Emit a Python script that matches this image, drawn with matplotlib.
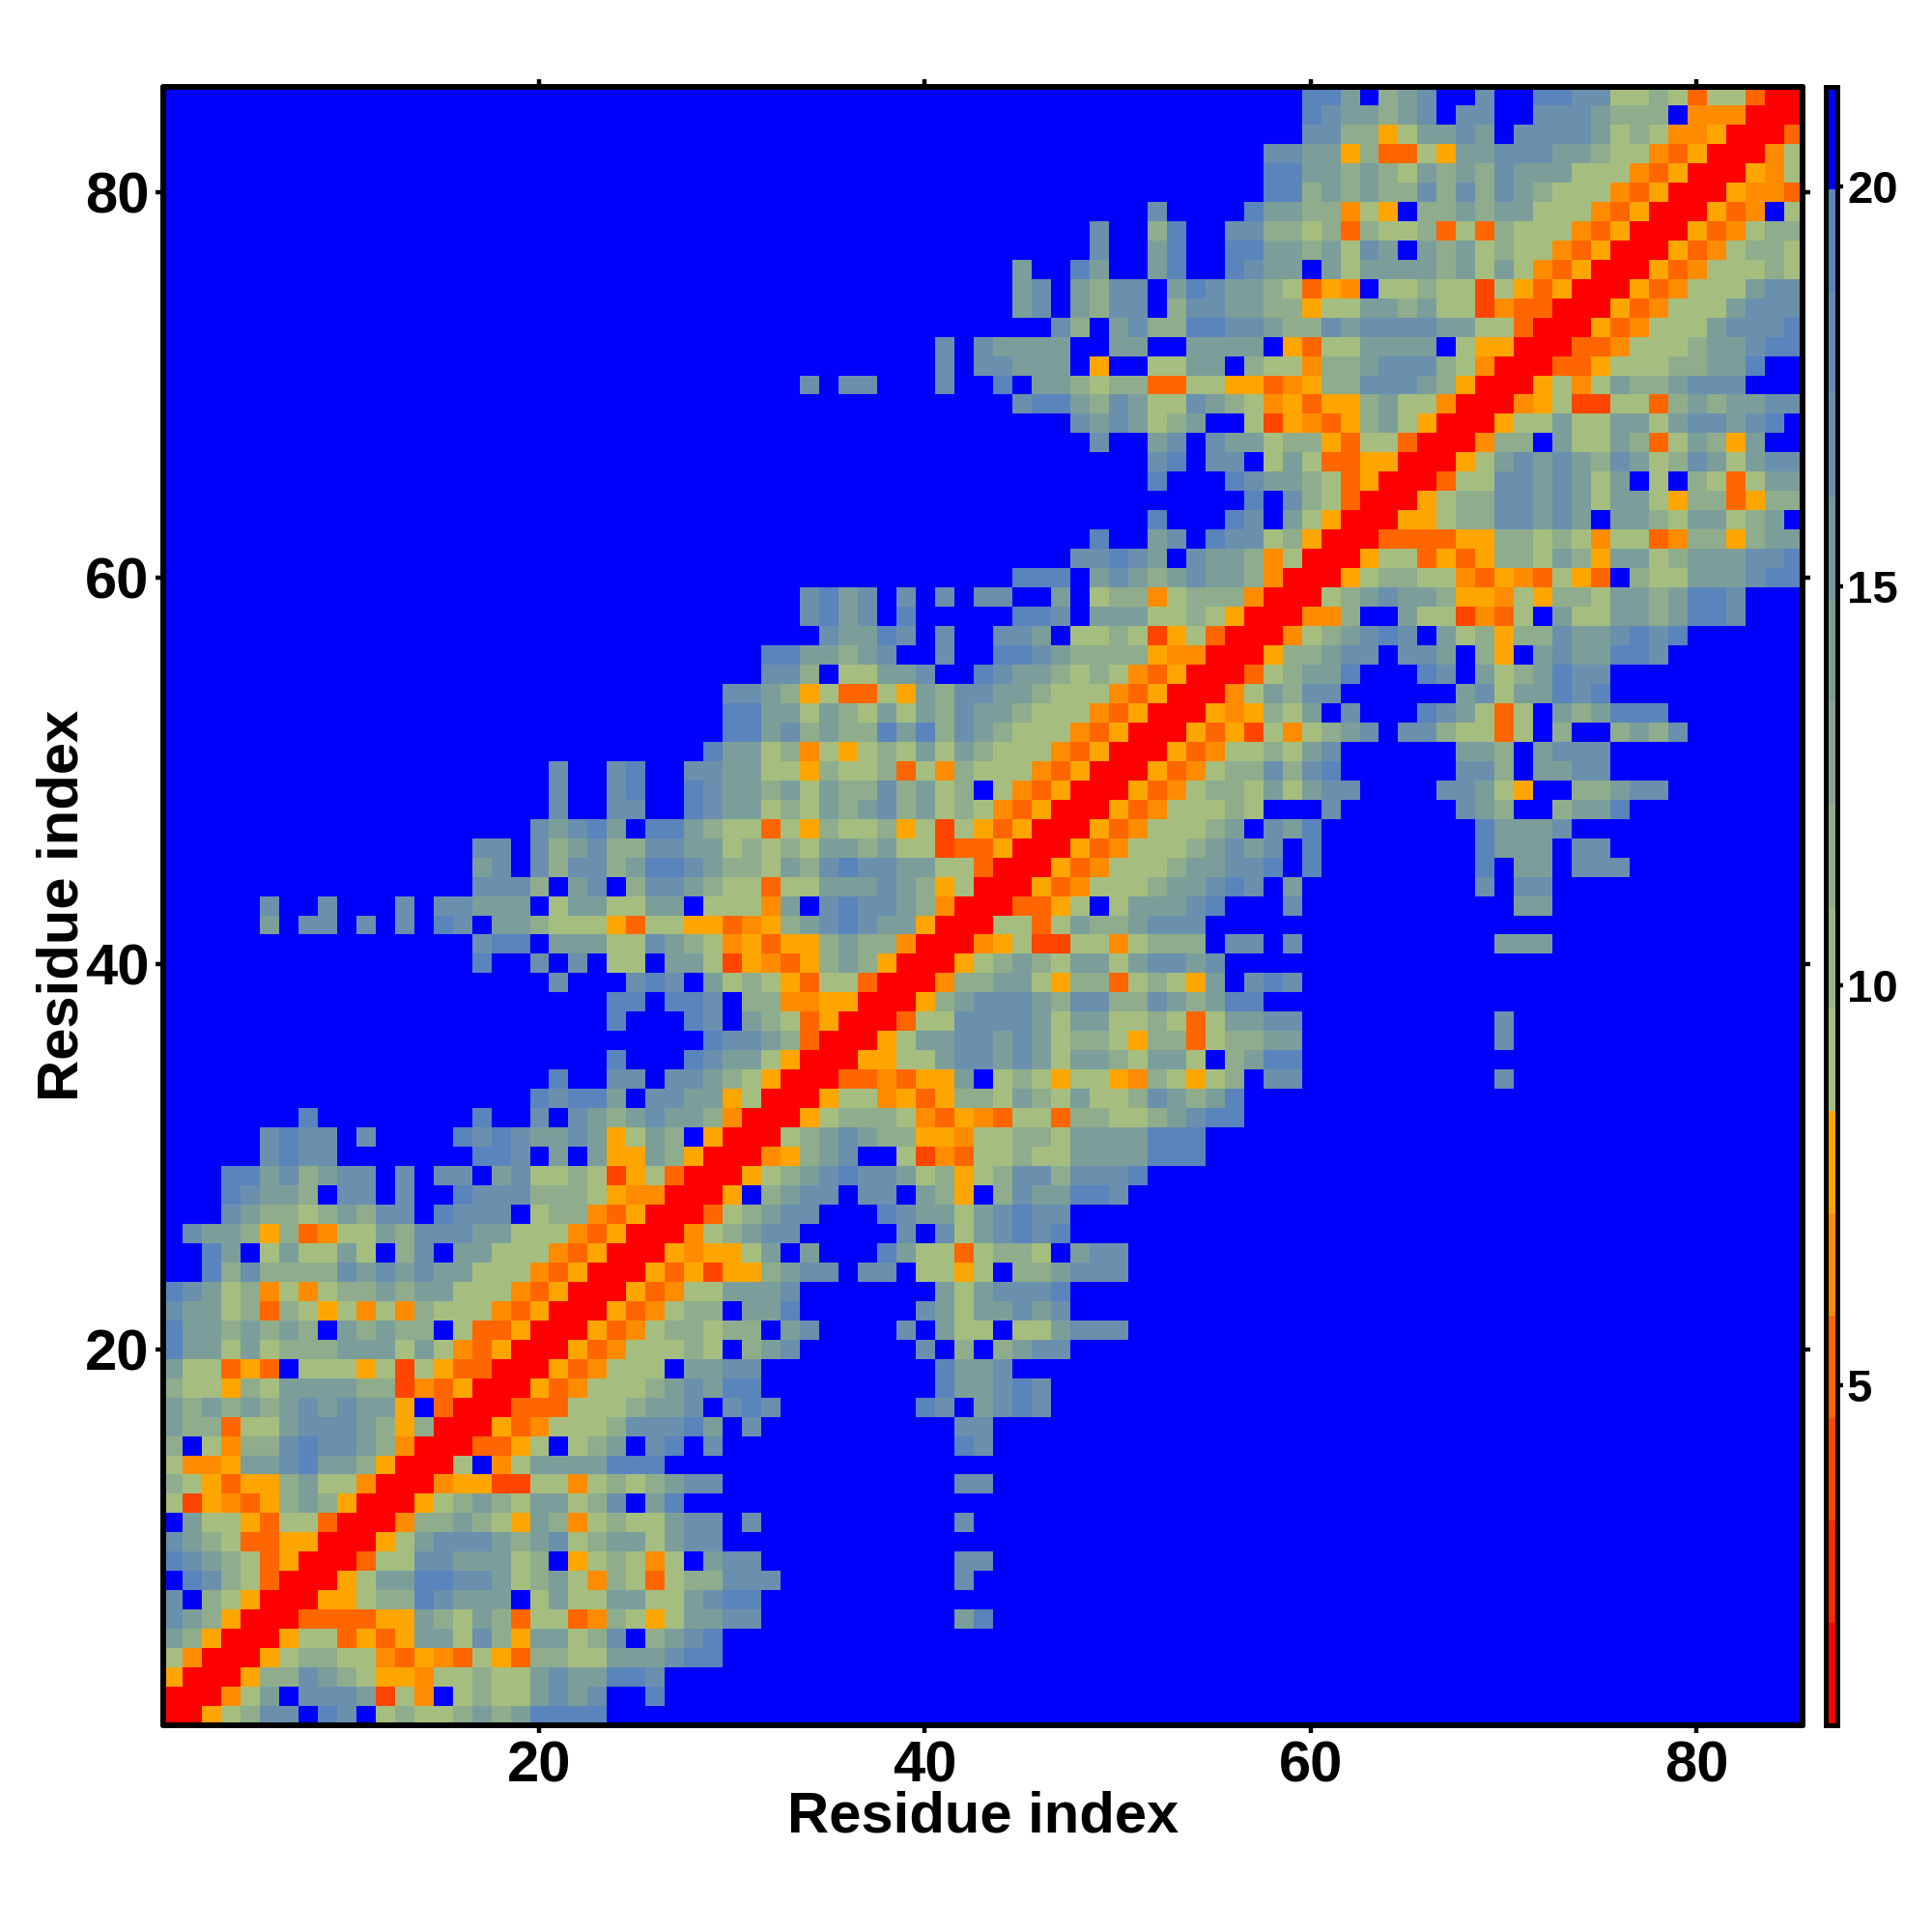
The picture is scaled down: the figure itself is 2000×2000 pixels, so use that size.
import numpy as np
import matplotlib
matplotlib.use("Agg")
import matplotlib.pyplot as plt
from matplotlib.colors import ListedColormap, BoundaryNorm

plt.rcParams['font.family'] = ['Liberation Sans', 'DejaVu Sans']
plt.rcParams['font.weight'] = 'bold'

# Each row: (first residue, hex codes of the distance bin); residues not listed are bin F.
row_85 = [(60,"EEAF"),(64,"8ACFFCFFEECC6686366300")]
row_84 = [(60,"ECAA"),(64,"8ACFCCFFCCCA888F444000")]
row_83 = [(60,"CC88"),(64,"56AACAFCCCCA6864450003")]
row_82 = [(58,"CCAA58"),(64,"3365AACCCAA86643500046")]
row_81 = [(58,"EEAA8A"),(64,"86A8A8CAAA666435000546")]
row_80 = [(58,"EE8A8A"),(64,"88C8C8CA86664350005443")]
row_79 = [(52,"C"),(57,"EAA8846"),(64,"5F88A8AA666435000534F6")]
row_78 = [(49,"C"),(52,"8E"),(56,"CC886838"),(64,"6683638666435000534688")]
row_77 = [(49,"C"),(52,"AE"),(56,"EEAA8A6C"),(64,"AFA8A68664350005346886")]
row_76 = [(45,"A"),(48,"EA"),(52,"AE"),(56,"ECAAFA6A"),(64,"AAA8A6A643500053466686")]
row_75 = [(45,"AC"),(48,"A8CC"),(53,"AECAA86354"),(64,"6686626535000534666ACC")]
row_74 = [(45,"AC"),(48,"A8CC"),(53,"8CCAA88566A"),(64,"A8A662433000534666ACCC")]
row_73 = [(47,"C8"),(50,"AC88EECCA88CAC"),(64,"CCCAA663000534666ACCCE")]
row_72 = [(41,"C"),(43,"CAAAA"),(50,"AA"),(54,"AAAA"),(59,"5366A"),(64,"AAAF6550003346668AACEE")]
row_71 = [(41,"C"),(43,"CCAAA"),(49,"5"),(52,"66AA"),(57,"866488A"),(64,"CCC86400033566688AAEFF")]
row_70 = [(34,"C"),(36,"CC"),(41,"C"),(44,"E"),(46,"AA868833665534588C"),(64,"CCA850005646A88ACCCFFF")]
row_69 = [(45,"CEEA8CA66CA86453558"),(64,"A664000456226638A8AACC")]
row_68 = [(48,"CACA68A"),(57,"6254358"),(64,"A65000566A66AA6ACCACEF")]
row_67 = [(49,"C"),(52,"AC"),(55,"CAA688536"),(64,"63000488FA66A836A85AFF")]
row_66 = [(52,"CE"),(55,"CC"),(58,"6A6335"),(64,"500056ACACA8CA68CA6ACC")]
row_65 = [(52,"E"),(56,"ECAA8635"),(64,"000366CCACA6AF6F8636AA")]
row_64 = [(57,"E"),(59,"C863"),(63,"0005688CCACA6AA65883588")]
row_63 = [(52,"E"),(56,"ECFA6"),(61,"500055688CCACAFAA86AA68AF")]
row_62 = [(49,"E"),(52,"AC"),(55,"ECC685"),(61,"00033335588686466348858AA")]
row_61 = [(48,"CCECA"),(54,"CAA846"),(60,"0005663535886A85AA68AAACCE")]
row_60 = [(45,"EEE"),(49,"ACA8ACAA84"),(59,"00056886643543653F866AAACEE")]
row_59 = [(34,"CEAC"),(39,"C"),(41,"C"),(43,"CC"),(47,"A"),(49,"688468884"),(58,"00068ACAA855465886AA8AEEC")]
row_58 = [(34,"CEAC"),(39,"E"),(45,"EEC"),(49,"AAA66865"),(57,"000448FFA662436FA66AA8AEEC")]
row_57 = [(35,"CAAEC"),(41,"C"),(44,"CCA"),(48,"66862563"),(56,"000468ACECFA68588CAACECE")]
row_56 = [(32,"EEAA8AC"),(41,"C"),(44,"EECA8888544"),(55,"000588ACCFCCAF85FACAAEEC")]
row_55 = [(32,"CC8F66AAC"),(43,"ECAA8686435"),(54,"000368AAEFFFECFA68AECC")]
row_54 = [(30,"CCA8563365A8CCAA8666435"),(53,"00046A8CC"),(68,"AC6AAECE")]
row_53 = [(30,"EEAA6A86A6A8CAA8666435"),(52,"00054586AFC"),(66,"ECA636FA8AEEE")]
row_52 = [(30,"EEAC8A88EAE8CA8666435"),(51,"00053526468AC"),(65,"CC86636F8"),(76,"8A8C")]
row_51 = [(29,"E"),(30,"AA68465686A6A8666435"),(50,"0005346686AC"),(68,"AA8FACCC")]
row_50 = [(21,"C"),(24,"CE"),(28,"CC"),(30,"AA66586683648666435"),(49,"000534688C8CE"),(68,"CC8FAACC")]
row_49 = [(21,"C"),(24,"CE"),(28,"EC"),(30,"AA8A6A"),(36,"88C8A68F64350005346886A6ACC"),(67,"CCA65FF88ACC")]
row_48 = [(21,"C"),(24,"CC"),(28,"EC"),(30,"AA686A"),(36,"8AC8A686435000534"),(53,"66686"),(61,"C"),(68,"CA8"),(73,"8AAE")]
row_47 = [(20,"CACEAFEEA8663658"),(36,"66856265350005346668AFCAE"),(69,"EAAAC")]
row_46 = [(17,"CCFC8AC88CCAA68686A"),(36,"A8A6623350005346668ACACFE"),(69,"EAAAFCC")]
row_45 = [(17,"ACFC8CC8AEECA886A8C"),(36,"ECCAA6630005346668AACCEFE"),(69,"EFAAFCCC")]
row_44 = [(17,"CCC8FACF8CCA866366A"),(36,"AACA8560005346668AACECFA"),(69,"CFCC")]
row_43 = [(6,"C"),(9,"C"),(13,"C"),(15,"CCAAA"),(21,"6AA66AAF6664AFC"),(36,"ECCA840003356F6AAACE"),(59,"C"),(71,"AA")]
row_42 = [(6,"A"),(8,"CC"),(11,"C"),(13,"C"),(15,"EC"),(18,"AA86665366553458AC"),(36,"ECAA50006636A88ACCC")]
row_41 = [(17,"CEE"),(21,"AAA66CA8645"),(32,"3558"),(36,"A884000456226646888"),(56,"CC"),(59,"C"),(70,"AAA")]
row_40 = [(17,"E"),(20,"C"),(22,"C"),(24,"66"),(27,"AA6254358"),(36,"A85000568A86AA6ACCAC")]
row_39 = [(21,"C"),(25,"CEC"),(29,"A686536"),(36,"63000488AA658836865A"),(57,"CEC")]
row_38 = [(24,"EE"),(27,"EEC"),(31,"88445"),(36,"500058ACCCA8CC88CA8AEE")]
row_37 = [(24,"E"),(28,"EC"),(31,"A8635"),(36,"000366CCCCA6AA668636AACC"),(70,"C")]
row_36 = [(29,"ECCA83"),(35,"000"),(38,"56AACCACA68865883688AA"),(70,"C")]
row_35 = [(24,"E"),(28,"ECAA65"),(34,"000"),(37,"5566ACCACA6AA86AA6F8AEE")]
row_34 = [(21,"E"),(24,"CC"),(27,"CCA86"),(32,"5"),(33,"000"),(36,"334355AF6865665486568FCC"),(70,"C")]
row_33 = [(20,"ECEEAFCCAA56"),(32,"000"),(35,"5664535886A86A668CA8AE")]
row_32 = [(8,"E"),(17,"E"),(20,"CFCA8ACAA84"),(31,"000"),(34,"5688864354366388668ACEE")]
row_31 = [(6,"CECC"),(11,"C"),(16,"ECEC"),(20,"AACA56A8"),(29,"5"),(30,"000"),(33,"68ACA8855466886AAAAEEE")]
row_30 = [(6,"CECC"),(17,"EEC"),(21,"A"),(23,"A55A85"),(29,"000"),(32,"458AC"),(39,"624366866AAAAEEE")]
row_29 = [(4,"EEAC8ACC"),(13,"C"),(15,"CC"),(18,"AC66862563"),(28,"000"),(31,"568ACECCA68568CC8CCCE")]
row_28 = [(4,"ECAA8"),(10,"CC"),(13,"C"),(16,"ECCC8886544"),(27,"000"),(30,"5"),(32,"8ACC"),(37,"CC"),(40,"A85"),(44,"8CAAEEC")]
row_27 = [(4,"CA8868A8CC"),(15,"ECCC"),(20,"688435"),(26,"000"),(29,"368ACC"),(38,"ECAA6ACECC")]
row_26 = [(2,"CAA8583466A8CCCAA666435"),(25,"000"),(28,"468ACC"),(39,"C"),(41,"C6ACECE")]
row_25 = [(3,"EAF6A66A6F8CFAA666435"),(24,"000"),(27,"54556A"),(34,"A"),(38,"EA6636886"),(48,"ACC")]
row_24 = [(3,"E8C8888CACACAA666435"),(23,"000"),(26,"5352558ACC"),(37,"CC"),(40,"6656"),(45,"88ACCC")]
row_23 = [(1,"ECA68464688A8AA666435"),(22,"000"),(25,"53466AAAC"),(41,"A6ACCCE")]
row_22 = [(1,"CAA68386564648666435"),(21,"000"),(24,"534688"),(31,"AAE"),(40,"CA6AACAC")]
row_21 = [(1,"EAA8A8A8FA8A88F6335"),(20,"000"),(23,"534688688"),(33,"AC"),(39,"C"),(41,"A66"),(45,"66ACCC")]
row_20 = [(1,"EAA6A6888AAA6A6"),(16,"435"),(19,"000"),(22,"53466686"),(31,"8AC"),(40,"C"),(42,"8"),(44,"8ACC")]
row_19 = [(1,"A66353F6665626533"),(18,"000"),(21,"534666FAACC"),(41,"EAAC")]
row_18 = [(1,"866586AAAA882435"),(17,"000"),(20,"5346668ACAEE"),(41,"EAACEC")]
row_17 = [(1,"A8A8A8ACACAA5F3"),(16,"000"),(19,"3336668AAC"),(30,"CEC"),(40,"EC"),(43,"ACEC")]
row_16 = [(1,"A88366ACCCA858"),(15,"000"),(18,"5346668CCCEA"),(31,"C"),(42,"CC")]
row_15 = [(1,"8F6488CECCA84"),(14,"000"),(17,"3356F68AFCEFC"),(42,"EC")]
row_14 = [(1,"6445AACEAA85"),(13,"000"),(16,"6F46AAAAEEE")]
row_13 = [(1,"8653558A664"),(12,"000"),(15,"455226646868ACC"),(42,"CC")]
row_12 = [(1,"6254358A85"),(11,"000"),(14,"568A86AA68CFAE")]
row_11 = [(1,"FA6653663"),(10,"000"),(13,"488A865A846866ACCFC"),(42,"C")]
row_10 = [(1,"CA863355"),(9,"000"),(12,"56ACCCA8AC68AA6ACC")]
row_9 = [(1,"ECA8635"),(8,"000"),(11,"366CCAAA68"),(22,"568646"),(29,"ACC"),(42,"CC")]
row_8 = [(1,"FEC863"),(7,"000"),(10,"56AAEECCA68A64863688CCC"),(42,"C")]
row_7 = [(1,"CF865"),(6,"000"),(9,"55688ECAAA"),(20,"6A66AA66ACEE")]
row_6 = [(1,"CA85"),(5,"000"),(8,"333355A86A8366348656AACC"),(42,"AE")]
row_5 = [(1,"A85"),(4,"000"),(7,"5663535AA6C85AA68CF8ACE")]
row_4 = [(1,"64"),(3,"000"),(6,"568866435436538866AAACEE")]
row_3 = [(1,"5"),(2,"000"),(5,"588CA8655466866ACAAEEC")]
row_2 = [(1,"000"),(4,"46AFCCCA264F6866ACAC"),(26,"E")]
row_1 = [(1,"00568CCFECF68668A8AEEEE")]

bin_colors = ["#FF0000","#FF2800","#FF4500","#FF6600","#FF8C00","#FFA500",
              "#A5BE80","#99B586","#8FAD8C","#85A593","#7C9E9A","#7297A3",
              "#6A90AD","#628AB5","#5A84BC","#0000FF"]
bin_edges = np.linspace(0.745, 21.25, 17)
x_ticks = [20, 40, 60, 80]
y_ticks = [20, 40, 60, 80]
bar_ticks = [5, 10, 15, 20]
n_res = 85

mids = 0.5 * (bin_edges[:-1] + bin_edges[1:])
grid = np.full((n_res, n_res), mids[15])
for r in range(1, n_res + 1):
    for start, codes in globals()[f"row_{r}"]:
        for k, ch in enumerate(codes):
            c = start + k
            if c <= n_res:
                grid[r - 1, c - 1] = mids[int(ch, 16)]

W = 2000.0
fig = plt.figure(figsize=(20, 20), dpi=100, facecolor="white")
def rect(l, t, r, b):
    return [l / W, 1 - b / W, (r - l) / W, (b - t) / W]

ax = fig.add_axes(rect(168.5, 89.5, 1866, 1786))
cmap = ListedColormap(bin_colors)
norm = BoundaryNorm(bin_edges, cmap.N)
im = ax.imshow(grid, origin="lower", extent=(0.5, 85.5, 0.5, 85.5), cmap=cmap, norm=norm,
               interpolation="nearest", aspect="auto")
ax.set_xticks(x_ticks)
ax.set_yticks(y_ticks)
ax.tick_params(axis="both", which="major", direction="out", length=6, width=3.2,
               top=True, right=True, labeltop=False, labelright=False,
               labelsize=43)
ax.tick_params(axis="x", pad=5)
ax.tick_params(axis="y", pad=4)
for lab in ax.get_xticklabels() + ax.get_yticklabels():
    lab.set_fontweight("bold")
for s in ax.spines.values():
    s.set_linewidth(4.3)
    s.set_capstyle("round")

fig.text(1018 / W, 1 - 1881 / W, "Residue index", ha="center", va="center",
         fontsize=43, fontweight="bold")
fig.text(65 / W, 1 - 937 / W, "Residue index", ha="center", va="center",
         rotation=90, fontsize=43, fontweight="bold")

cax = fig.add_axes(rect(1889.5, 89.5, 1901.5, 1786))
cb = fig.colorbar(im, cax=cax, ticks=bar_ticks, spacing="proportional", drawedges=False)
cb.ax.tick_params(direction="out", length=4.5, width=3.2, labelsize=34, pad=3)
cb.ax.minorticks_off()
for lab in cb.ax.get_yticklabels():
    lab.set_fontweight("bold")
for s in cb.ax.spines.values():
    s.set_linewidth(3.6)
cb.outline.set_linewidth(3.6)

fig.savefig("out.png", dpi=100, facecolor="white")
